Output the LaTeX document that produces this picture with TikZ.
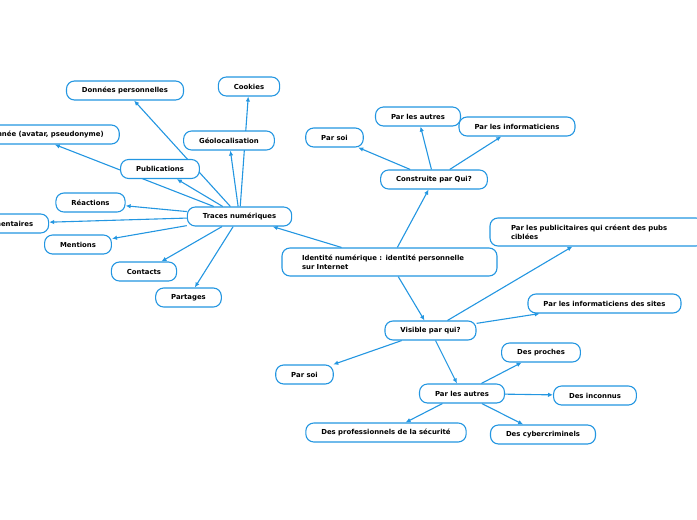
\documentclass[tikz,border=0pt]{standalone}
\usepackage{fontspec}
\setmainfont{DejaVu Sans}
\usetikzlibrary{arrows.meta,backgrounds}
\definecolor{mapblue}{RGB}{35,150,225}

\tikzset{
  topic/.style={draw=mapblue, line width=1.1pt, fill=white, rounded corners=8pt,
    minimum height=19pt, inner xsep=15.5pt, inner ysep=2pt,
    font=\fontsize{6.9}{9}\selectfont\bfseries},
  longtopic/.style={topic, align=left, minimum height=28pt, inner xsep=20pt},
  link/.style={draw=mapblue, line width=1.1pt, -{Latex[length=5pt,width=4.5pt]}}
}

\begin{document}
\begin{tikzpicture}[x=1pt,y=-1pt]
        \useasboundingbox (0,0) rectangle (697,520);
        \clip (0,0) rectangle (697,520);

        % Central topic
        \node[longtopic, text width=175pt] (idn) at (389.5,262) {Identité numérique : identité personnelle\\sur Internet};

        % Traces numeriques branch
        \node[topic] (traces) at (239.5,216.5) {Traces numériques};
        \node[topic] (cookies) at (249,86.5) {Cookies};
        \node[topic] (donnees) at (125,90.5) {Données personnelles};
        \node[topic] (avatar) at (29,134.5) {Identité donnée (avatar, pseudonyme)};
        \node[topic] (geoloc) at (229,140.5) {Géolocalisation};
        \node[topic] (publi) at (160,169) {Publications};
        \node[topic] (reactions) at (90.5,202.5) {Réactions};
        \node[topic] (comment) at (5,223.5) {Commentaires};
        \node[topic] (mentions) at (78,244.5) {Mentions};
        \node[topic] (contacts) at (144,271.5) {Contacts};
        \node[topic] (partages) at (188.5,297.5) {Partages};

        % Construite par qui branch
        \node[topic] (construite) at (434,179.5) {Construite par Qui?};
        \node[topic] (cparsoi) at (334.5,137.5) {Par soi};
        \node[topic] (cautres) at (418,116.5) {Par les autres};
        \node[topic] (cinfo) at (517,126.5) {Par les informaticiens};

        % Visible par qui branch
        \node[topic] (visible) at (430.5,330.5) {Visible par qui?};
        \node[longtopic, text width=172pt, inner xsep=21pt] (pub) at (597,232) {Par les publicitaires qui créent des pubs\\ciblées};
        \node[topic] (vinfo) at (604.5,303.5) {Par les informaticiens des sites};
        \node[topic] (vparsoi) at (304.5,374.5) {Par soi};
        \node[topic] (vautres) at (462,393.5) {Par les autres};
        \node[topic] (proches) at (541,352.5) {Des proches};
        \node[topic] (inconnus) at (595,395.5) {Des inconnus};
        \node[topic] (pros) at (386,432.5) {Des professionnels de la sécurité};
        \node[topic] (cyber) at (543,434.5) {Des cybercriminels};

        % Draw the connectors behind the boxes
        \begin{pgfonlayer}{background}
        \draw[link] (idn) -- (traces);
        \draw[link] (idn) -- (construite);
        \draw[link] (idn) -- (visible);
        \foreach \leaf in {cookies,donnees,avatar,geoloc,publi,reactions,comment,mentions,contacts,partages}
          \draw[link] (traces) -- (\leaf);
        \foreach \leaf in {cparsoi,cautres,cinfo}
          \draw[link] (construite) -- (\leaf);
        \foreach \leaf in {pub,vinfo,vparsoi,vautres}
          \draw[link] (visible) -- (\leaf);
        \foreach \leaf in {proches,inconnus,pros,cyber}
          \draw[link] (vautres) -- (\leaf);
        \end{pgfonlayer}
    \end{tikzpicture}
\end{document}
